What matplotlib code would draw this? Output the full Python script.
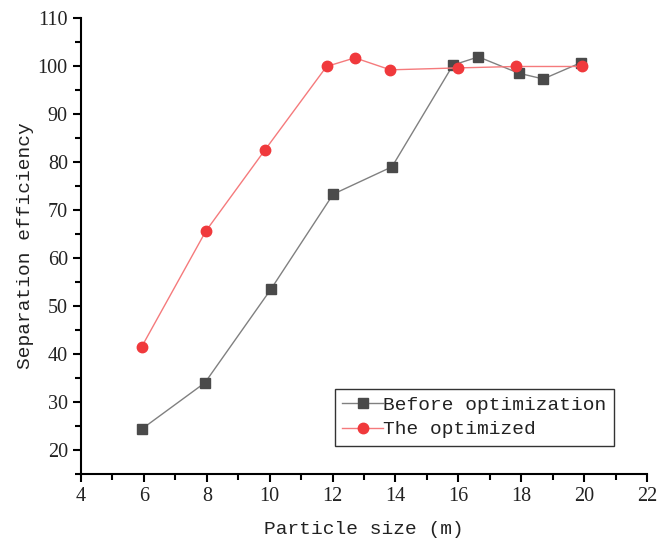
import matplotlib.pyplot as plt
from matplotlib.ticker import MultipleLocator

# before optimization
x_before = [5.94, 7.94, 10.04, 12.02, 13.89, 15.83, 16.64, 17.92, 18.70, 19.90]
y_before = [24.4, 34.0, 53.5, 73.3, 79.0, 100.2, 101.9, 98.5, 97.3, 100.7]

# optimized
x_opt = [5.93, 7.97, 9.85, 11.81, 12.71, 13.84, 15.98, 17.83, 19.92]
y_opt = [41.5, 65.6, 82.5, 99.9, 101.7, 99.2, 99.6, 99.9, 99.9]

lab_font = 'Liberation Mono'
tick_font = 'Liberation Serif'

fig = plt.figure(figsize=(6.59, 5.39), dpi=100)
ax = fig.add_axes([0.1229, 0.1206, 0.8589, 0.846])

ax.plot(x_before, y_before, color='#808080', lw=1, marker='s', ms=7,
        mfc='#4a4a4a', mec='#4a4a4a', label='Before optimization')
ax.plot(x_opt, y_opt, color='#f57a7c', lw=1, marker='o', ms=7.5,
        mfc='#f0393c', mec='#f0393c', label='The optimized')

ax.set_xlim(4, 22)
ax.set_ylim(15, 110)
ax.xaxis.set_major_locator(MultipleLocator(2))
ax.xaxis.set_minor_locator(MultipleLocator(1))
ax.yaxis.set_major_locator(MultipleLocator(10))
ax.yaxis.set_minor_locator(MultipleLocator(5))

for s in ['top', 'right']:
    ax.spines[s].set_visible(False)
for s in ['left', 'bottom']:
    ax.spines[s].set_linewidth(1.5)

ax.tick_params(which='major', direction='out', length=6, width=1.5, labelsize=14.5,
               labelcolor='#222222')
ax.tick_params(which='minor', direction='out', length=4, width=1.5)
for t in ax.get_xticklabels() + ax.get_yticklabels():
    t.set_fontfamily(tick_font)

ax.set_xlabel('Particle size (m)', fontfamily=lab_font, fontsize=14, color='#222222',
              labelpad=11)
ax.set_ylabel('Separation efficiency', fontfamily=lab_font, fontsize=14, color='#222222',
              labelpad=3)

leg = ax.legend(loc='lower right', bbox_to_anchor=(0.942, 0.061), prop={'family': lab_font, 'size': 14},
                frameon=True, fancybox=False, edgecolor='black', handlelength=2.1,
                handletextpad=0.0, borderpad=0.4, labelspacing=0.35, borderaxespad=0)
leg.get_frame().set_linewidth(1)
for t in leg.get_texts():
    t.set_color('#222222')

fig.savefig('out.png', dpi=100)
